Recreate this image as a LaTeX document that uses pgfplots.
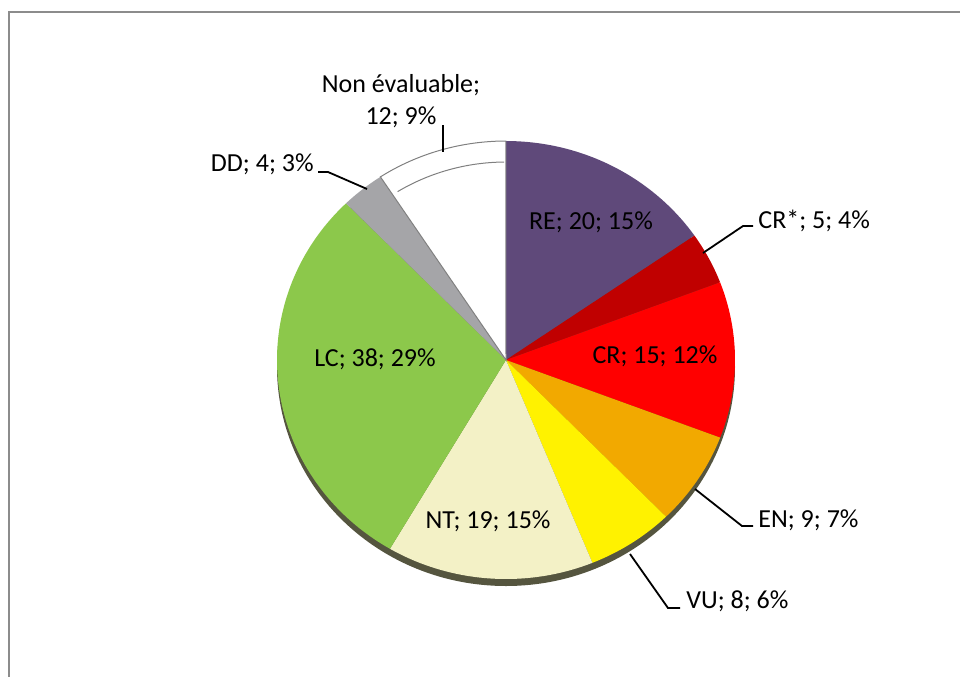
\documentclass[border=0pt]{standalone}
\usepackage{pgfplots}
\pgfplotsset{compat=1.18}
\usepackage{fontspec}
\setmainfont{Carlito}
\definecolor{cRE}{HTML}{5F497A}
\definecolor{cCRs}{HTML}{C00000}
\definecolor{cCR}{HTML}{FF0000}
\definecolor{cEN}{HTML}{F2A900}
\definecolor{cVU}{HTML}{FFF200}
\definecolor{cNT}{HTML}{F3F1C6}
\definecolor{cLC}{HTML}{8CC84B}
\definecolor{cDD}{HTML}{A5A5A8}
\definecolor{cNE}{HTML}{FFFFFF}
\definecolor{shadowcol}{HTML}{55553F}
\definecolor{framecol}{HTML}{8C8C8C}
% values: RE, CR*, CR, EN, VU, NT, LC, DD, Non evaluable
\pgfmathsetmacro\tot{20+5+15+9+8+19+38+4+12}
\pgfmathsetmacro\aA{90}
\pgfmathsetmacro\aB{\aA-20/\tot*360}
\pgfmathsetmacro\aC{\aB-5/\tot*360}
\pgfmathsetmacro\aD{\aC-15/\tot*360}
\pgfmathsetmacro\aE{\aD-9/\tot*360}
\pgfmathsetmacro\aF{\aE-8/\tot*360}
\pgfmathsetmacro\aG{\aF-19/\tot*360}
\pgfmathsetmacro\aH{\aG-38/\tot*360}
\pgfmathsetmacro\aI{\aH-4/\tot*360}
\pgfmathsetmacro\aJ{\aI-12/\tot*360}
\newcommand\slice[3]{%
  \addplot[fill=#1, draw=none, domain=#3:#2, samples=90, variable=\t]
    ({506+229*cos(\t)},{360-219*sin(\t)}) -- (axis cs:506,360) -- cycle;}
\tikzset{lbl/.style={font=\fontsize{13}{16}\selectfont, text=black, inner sep=0pt}}
\begin{document}
\begin{tikzpicture}
\begin{axis}[width=480pt, height=338pt, scale only axis, hide axis,
  xmin=0, xmax=960, ymin=0, ymax=676, y dir=reverse, clip=true]
\draw[color=framecol, line width=1pt] (axis cs:9,12) rectangle (axis cs:1000,720);
\fill[shadowcol] (axis cs:506,367) ellipse [x radius=229, y radius=219];
\slice{cRE}{\aA}{\aB}
\slice{cCRs}{\aB}{\aC}
\slice{cCR}{\aC}{\aD}
\slice{cEN}{\aD}{\aE}
\slice{cVU}{\aE}{\aF}
\slice{cNT}{\aF}{\aG}
\slice{cLC}{\aG}{\aH}
\slice{cDD}{\aH}{\aI}
\addplot[fill=cNE, draw=gray, line width=0.5pt, domain=\aJ:\aI, samples=60, variable=\t]
  ({506+229*cos(\t)},{360-219*sin(\t)}) -- (axis cs:506,360) -- cycle;
\addplot[draw=gray, line width=0.5pt, domain=\aJ+0.5:\aI-1.5, samples=60, variable=\t]
  ({506+206*cos(\t)},{360-198*sin(\t)});
% labels inside
\node[lbl] at (axis cs:591,222) {RE; 20; 15\%};
\node[lbl] at (axis cs:655,356) {CR; 15; 12\%};
\node[lbl] at (axis cs:375,359) {LC; 38; 29\%};
\node[lbl] at (axis cs:488,521) {NT; 19; 15\%};
% leader lines
\draw[black, line width=0.9pt] (axis cs:703,253) -- (axis cs:743,226) -- (axis cs:753,226);
\draw[black, line width=0.9pt] (axis cs:695,489) -- (axis cs:742,526) -- (axis cs:753,526);
\draw[black, line width=0.9pt] (axis cs:630,554) -- (axis cs:668,608) -- (axis cs:680,608);
\draw[black, line width=0.9pt] (axis cs:367,189) -- (axis cs:328,172) -- (axis cs:318,172);
\draw[black, line width=0.9pt] (axis cs:443,125) -- (axis cs:443,152);
% outside labels
\node[lbl, anchor=west] at (axis cs:758,221) {CR*; 5; 4\%};
\node[lbl, anchor=west] at (axis cs:758,520) {EN; 9; 7\%};
\node[lbl, anchor=west] at (axis cs:686,601) {VU; 8; 6\%};
\node[lbl, anchor=east] at (axis cs:314,164) {DD; 4; 3\%};
\node[lbl, align=center] at (axis cs:401,101) {Non évaluable;\\12; 9\%};
\end{axis}
\pgfresetboundingbox
\path[use as bounding box] (current axis.south west) rectangle (current axis.north east);
\end{tikzpicture}
\end{document}
